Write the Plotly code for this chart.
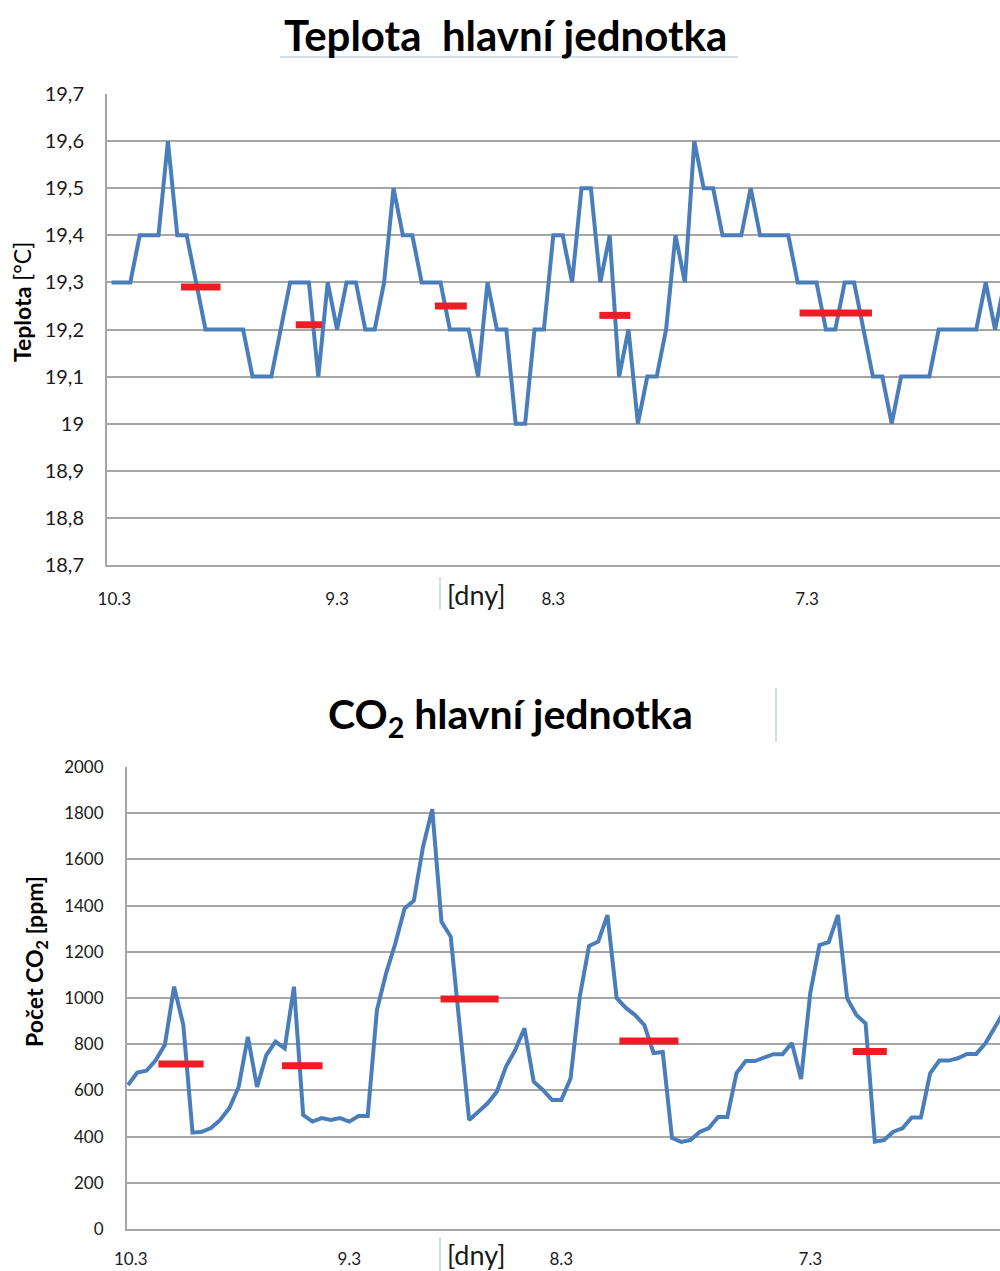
import plotly.graph_objects as go

# ---------------- data ----------------
temp_values = [19.3, 19.3, 19.3, 19.4, 19.4, 19.4, 19.6, 19.4, 19.4, 19.3,
               19.2, 19.2, 19.2, 19.2, 19.2, 19.1, 19.1, 19.1, 19.2, 19.3,
               19.3, 19.3, 19.1, 19.3, 19.2, 19.3, 19.3, 19.2, 19.2, 19.3,
               19.5, 19.4, 19.4, 19.3, 19.3, 19.3, 19.2, 19.2, 19.2, 19.1,
               19.3, 19.2, 19.2, 19.0, 19.0, 19.2, 19.2, 19.4, 19.4, 19.3,
               19.5, 19.5, 19.3, 19.4, 19.1, 19.2, 19.0, 19.1, 19.1, 19.2,
               19.4, 19.3, 19.6, 19.5, 19.5, 19.4, 19.4, 19.4, 19.5, 19.4,
               19.4, 19.4, 19.4, 19.3, 19.3, 19.3, 19.2, 19.2, 19.3, 19.3,
               19.2, 19.1, 19.1, 19.0, 19.1, 19.1, 19.1, 19.1, 19.2, 19.2,
               19.2, 19.2, 19.2, 19.3, 19.2, 19.3]

co2_values = [623, 677, 685, 730, 797, 1049, 883, 417, 421, 437,
              472, 524, 615, 832, 615, 753, 811, 782, 1049, 494,
              465, 480, 472, 480, 465, 489, 489, 948, 1108, 1237,
              1388, 1421, 1655, 1817, 1330, 1266, 869, 472, 508, 544,
              594, 703, 775, 869, 638, 602, 558, 558, 652, 1006,
              1225, 1244, 1359, 1000, 957, 926, 883, 762, 766, 394,
              377, 385, 420, 437, 485, 485, 675, 727, 727, 740,
              757, 757, 805, 649, 1022, 1229, 1242, 1359, 998, 926,
              890, 378, 385, 421, 436, 483, 483, 674, 729, 729,
              739, 758, 758, 804, 870, 940]

# daily averages (start index, end index, value)
temp_avg_start = [7.4, 19.6, 34.4, 51.9, 73.2]
temp_avg_end = [11.6, 22.4, 37.8, 55.2, 80.9]
temp_avg_value = [19.29, 19.21, 19.25, 19.23, 19.235]

co2_avg_start = [3.3, 16.7, 33.9, 53.3, 78.6]
co2_avg_end = [8.2, 21.1, 40.2, 59.7, 82.3]
co2_avg_value = [714, 707, 996, 814, 768]

day_labels = ["10.3", "9.3", "8.3", "7.3"]
day_label_index = [0.3, 24, 47, 74]

# ---------------- styling ----------------
BLUE = "#4A7EBB"
RED = "#EE1C24"
GRID = "#A6A6A6"
FONT = "Lato, Open Sans, sans-serif"
TXT = "#1a1a1a"

H = 1271.0
W = 1000.0

fig = go.Figure()

idx_t = list(range(len(temp_values)))
idx_c = list(range(len(co2_values)))

fig.add_trace(go.Scatter(x=idx_t, y=temp_values, mode="lines",
                         line=dict(color=BLUE, width=4), xaxis="x", yaxis="y",
                         showlegend=False))
for s, e, v in zip(temp_avg_start, temp_avg_end, temp_avg_value):
    fig.add_trace(go.Scatter(x=[s, e], y=[v, v], mode="lines",
                             line=dict(color=RED, width=7), xaxis="x", yaxis="y",
                             showlegend=False))

fig.add_trace(go.Scatter(x=idx_c, y=co2_values, mode="lines",
                         line=dict(color=BLUE, width=4), xaxis="x2", yaxis="y2",
                         showlegend=False))
for s, e, v in zip(co2_avg_start, co2_avg_end, co2_avg_value):
    fig.add_trace(go.Scatter(x=[s, e], y=[v, v], mode="lines",
                             line=dict(color=RED, width=7), xaxis="x2", yaxis="y2",
                             showlegend=False))


def py(y):
    return (H - y) / H


def px(x):
    return x / W


fig.update_layout(
    width=1000, height=1271,
    margin=dict(l=0, r=0, t=0, b=0, autoexpand=False),
    paper_bgcolor="white", plot_bgcolor="white",
    separators=", ",
    font=dict(family=FONT, color=TXT),
    xaxis=dict(domain=[px(107), 1.0], anchor="y", automargin=False,
               range=[(107 - 111.5) / 9.4, (1000 - 111.5) / 9.4],
               showgrid=False, zeroline=False,
               showline=True, linecolor=GRID, linewidth=2,
               tickvals=day_label_index, ticktext=day_labels,
               ticks="", ticklabelstandoff=18,
               tickfont=dict(size=17, family=FONT, color=TXT)),
    yaxis=dict(domain=[py(565), py(94)], anchor="x", automargin=False,
               range=[18.7, 19.7], dtick=0.1, tick0=18.7,
               showgrid=True, gridcolor=GRID, gridwidth=2,
               zeroline=False, showline=True, linecolor=GRID, linewidth=2,
               ticks="", ticklabelstandoff=17,
               tickfont=dict(size=20, family=FONT, color=TXT)),
    xaxis2=dict(domain=[px(127), 1.0], anchor="y2", automargin=False,
                range=[(127 - 128) / 9.22, (1000 - 128) / 9.22],
                showgrid=False, zeroline=False,
                showline=True, linecolor=GRID, linewidth=2,
                tickvals=day_label_index, ticktext=day_labels,
                ticks="", ticklabelstandoff=14,
                tickfont=dict(size=17, family=FONT, color=TXT)),
    yaxis2=dict(domain=[py(1229), py(767)], anchor="x2", automargin=False,
                range=[0, 2000], dtick=200,
                showgrid=True, gridcolor=GRID, gridwidth=2,
                zeroline=False, showline=True, linecolor=GRID, linewidth=2,
                ticks="", ticklabelstandoff=18,
                tickfont=dict(size=17, family=FONT, color=TXT)),
)

annotations = [
    dict(text="<b>Teplota  hlavní jednotka</b>", x=px(505), y=py(35),
         xref="paper", yref="paper", showarrow=False,
         font=dict(size=42, family=FONT, color="#000000"),
         xanchor="center", yanchor="middle"),
    dict(text="<b>CO<sub>2</sub> hlavní jednotka</b>", x=px(510), y=py(716),
         xref="paper", yref="paper", showarrow=False,
         font=dict(size=41, family=FONT, color="#000000"),
         xanchor="center", yanchor="middle"),
    dict(text="<b>Teplota</b> [°C]", x=px(22), y=py(302),
         xref="paper", yref="paper", showarrow=False, textangle=-90,
         font=dict(size=23, family=FONT, color="#000000"),
         xanchor="center", yanchor="middle"),
    dict(text="<b>Počet CO<sub>2</sub> [ppm]</b>", x=px(35), y=py(962),
         xref="paper", yref="paper", showarrow=False, textangle=-90,
         font=dict(size=23, family=FONT, color="#000000"),
         xanchor="center", yanchor="middle"),
    dict(text="[dny]", x=px(445), y=py(594),
         xref="paper", yref="paper", showarrow=False,
         font=dict(size=27, family=FONT, color=TXT),
         xanchor="left", yanchor="middle"),
    dict(text="[dny]", x=px(445), y=py(1254),
         xref="paper", yref="paper", showarrow=False,
         font=dict(size=27, family=FONT, color=TXT),
         xanchor="left", yanchor="middle"),
]
fig.update_layout(annotations=annotations)

box_line = dict(color="#C9D3E6", width=1.5)
shapes = [
    dict(type="line", xref="paper", yref="paper",
         x0=px(280), x1=px(738), y0=py(57), y1=py(57), line=box_line),
    dict(type="line", xref="paper", yref="paper",
         x0=px(440), x1=px(440), y0=py(577), y1=py(609), line=box_line),
    dict(type="line", xref="paper", yref="paper",
         x0=px(776), x1=px(776), y0=py(688), y1=py(742), line=box_line),
    dict(type="line", xref="paper", yref="paper",
         x0=px(440), x1=px(440), y0=py(1237), y1=py(1271), line=box_line),
]
fig.update_layout(shapes=shapes)

fig.write_html("out.html")
